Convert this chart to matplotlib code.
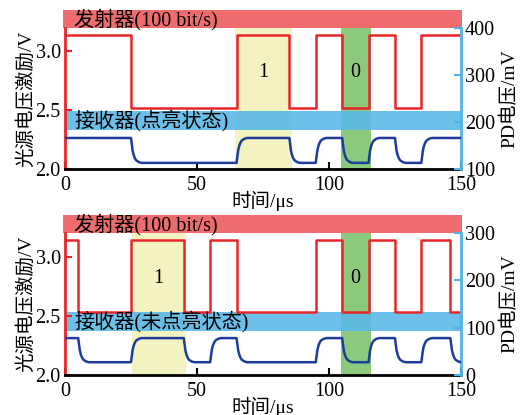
import matplotlib.pyplot as plt
from matplotlib.patches import Rectangle

plt.rcParams['font.family'] = ['Liberation Serif', 'Noto Sans CJK SC']

# bit pattern of the emitter drive (segment edges in us, state per segment)
TOP_EDGES = [0, 25, 65, 85, 95, 105, 115, 125, 135, 150]
TOP_BITS = [1, 0, 1, 0, 1, 0, 1, 0, 1]
BOT_EDGES = [0, 5, 25, 45, 55, 65, 95, 105, 115, 125, 135, 146, 150]
BOT_BITS = [1, 0, 1, 0, 1, 0, 1, 0, 1, 0, 1, 0]

# signal levels (low, high)
TOP_TX_LEVELS = (2.52, 3.14)
TOP_RX_LEVELS = (113, 166)
BOT_TX_LEVELS = (2.53, 3.14)
BOT_RX_LEVELS = (27, 78)

# receiver edge shape: time after edge / fraction of swing
RX_EDGE_DT = [0, 0.3, 0.6, 1.0, 1.5, 2.0, 3.0, 4.0]
RX_EDGE_FRAC = [0, 0.25, 0.5, 0.68, 0.82, 0.9, 0.97, 1.0]

TOP_ONE_SPAN = (64.5, 86)
TOP_ZERO_SPAN = (104.5, 116)
BOT_ONE_SPAN = (25.2, 45.8)
BOT_ZERO_SPAN = (104.5, 116)

TOP_RX_BAND = (2.33, 2.49)
BOT_RX_BAND = (2.37, 2.53)

X_TICKS = [0, 50, 100, 150]
TX_TICKS = [2.0, 2.5, 3.0]
TOP_RX_TICKS = [100, 200, 300, 400]
BOT_RX_TICKS = [0, 100, 200, 300]

RED = '#e8262a'
BLUE = '#1e3c9c'
SKY = '#4fb2e6'


def build_trace(edges, bits, levels, dts, fracs):
    t = [edges[0]]
    v = [levels[bits[0]]]
    for i in range(1, len(bits)):
        t0 = edges[i]
        a, b = levels[bits[i - 1]], levels[bits[i]]
        for dt, f in zip(dts, fracs):
            t.append(t0 + dt)
            v.append(a + (b - a) * f)
    t.append(edges[-1])
    v.append(levels[bits[-1]])
    return t, v


def draw_panel(rect, edges, bits, tx_levels, rx_levels, rx_ylim, rx_ticks,
               one_span, zero_span, one_x, rx_band, rx_text, xlabel_y):
    ax = fig.add_axes(rect)
    ax2 = ax.twinx()

    ax.axvspan(*one_span, color='#f3f3c2', lw=0, zorder=0)
    ax.axvspan(*zero_span, color='#8cc97c', lw=0, zorder=0)
    ax.axhspan(*rx_band, color='#5bb8e6', alpha=0.9, lw=0, zorder=1)

    tx_t, tx_v = build_trace(edges, bits, tx_levels, [0, 0], [0, 1])
    ax.plot(tx_t, tx_v, color=RED, lw=1.8, zorder=3)
    rx_t, rx_v = build_trace(edges, bits, rx_levels, RX_EDGE_DT, RX_EDGE_FRAC)
    ax2.plot(rx_t, rx_v, color=BLUE, lw=1.8, zorder=3)

    # emitter band above the plot
    ax.add_patch(Rectangle((-0.7, 3.2), 151.2, 0.15, transform=ax.transData,
                           color='#ee6466', alpha=0.95, lw=0, clip_on=False))
    ax.text(3.5, 3.272, '发射器(100 bit/s)', fontsize=14.5, va='center',
            ha='left', clip_on=False, zorder=5)
    ax.text(3.5, sum(rx_band) / 2, rx_text, fontsize=14.5, va='center',
            ha='left', zorder=5)
    ax.text(one_x, 2.82, '1', fontsize=14.5, ha='center', va='center')
    ax.text(110, 2.82, '0', fontsize=14.5, ha='center', va='center')

    ax.set_xlim(0, 150)
    ax.set_ylim(2.0, 3.2)
    ax2.set_ylim(*rx_ylim)
    ax.set_xticks(X_TICKS)
    ax.set_yticks(TX_TICKS)
    ax.set_yticklabels(['2.0', '2.5', '3.0'])
    ax2.set_yticks(rx_ticks)

    for s in ('top', 'right'):
        ax.spines[s].set_visible(False)
    for s in ('top', 'left', 'bottom'):
        ax2.spines[s].set_visible(False)
    ax.spines['left'].set_color(RED)
    ax.spines['left'].set_linewidth(2)
    ax.spines['bottom'].set_color('black')
    ax.spines['bottom'].set_linewidth(2)
    ax2.spines['right'].set_color(SKY)
    ax2.spines['right'].set_linewidth(2)

    ax.tick_params(axis='x', direction='in', length=5, width=1.5,
                   labelsize=14.5, pad=5)
    ax.tick_params(axis='y', direction='in', length=5, width=1.5, color=RED,
                   labelsize=14.5, pad=3)
    ax2.tick_params(axis='y', direction='in', length=5, width=1.5, color=SKY,
                    labelsize=14.5, pad=3)

    ax.set_xlabel('时间/μs', fontsize=14)
    ax.xaxis.set_label_coords(0.5, xlabel_y)
    ax.set_ylabel('光源电压激励/V', fontsize=14)
    ax.yaxis.set_label_coords(-0.076, 0.5)
    ax2.set_ylabel('PD电压/mV', fontsize=14, rotation=90)
    ax2.yaxis.set_label_coords(1.1, 0.5)
    return ax


fig = plt.figure(figsize=(5.23, 4.15), dpi=100)

draw_panel([0.1243, 0.5928, 0.757, 0.3398], TOP_EDGES, TOP_BITS,
           TOP_TX_LEVELS, TOP_RX_LEVELS, (100, 400), TOP_RX_TICKS,
           TOP_ONE_SPAN, TOP_ZERO_SPAN, 75, TOP_RX_BAND,
           '接收器(点亮状态)', -0.155)
draw_panel([0.1243, 0.0964, 0.757, 0.342], BOT_EDGES, BOT_BITS,
           BOT_TX_LEVELS, BOT_RX_LEVELS, (0, 300), BOT_RX_TICKS,
           BOT_ONE_SPAN, BOT_ZERO_SPAN, 35.5, BOT_RX_BAND,
           '接收器(未点亮状态)', -0.15)

fig.savefig('out.png', dpi=100)
